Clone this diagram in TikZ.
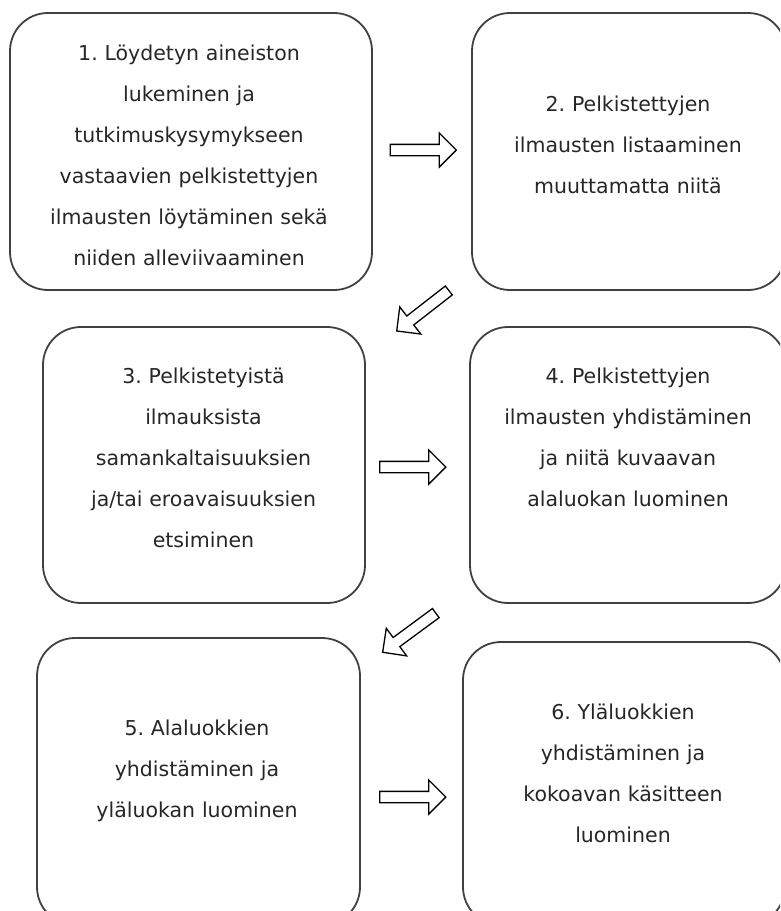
\documentclass[tikz,border=0pt]{standalone}
\usepackage{fontspec}
\setmainfont{DejaVu Sans}
\usetikzlibrary{shapes.arrows}
\frenchspacing

\begin{document}
\begin{tikzpicture}[x=1pt,y=-1pt,
            every node/.style={font=\fontsize{20.5}{41}\selectfont},
            phase/.style={draw=black!75,line width=1.8pt,rounded
              corners=38pt,inner sep=0pt},
            phasetext/.style={text width=320pt,align=center,
              text=black!85,inner sep=0pt},
            blockarrow/.style={draw,single arrow,line width=1.3pt,
              minimum height=66pt,inner xsep=0pt,inner ysep=5pt,
              single arrow head extend=11.5pt}
            ]
            \clip (0,0) rectangle (780,911);
            % the six phases
            \node[phase,minimum width=362pt,minimum height=277pt]
            (phase1) at (191,151.5) {}; \node[phase,minimum
            width=314pt,minimum height=277pt] (phase2) at (629,151.5)
            {}; \node[phase,minimum width=322pt,minimum height=276pt]
            (phase3) at (204,465) {}; \node[phase,minimum
            width=316pt,minimum height=276pt] (phase4) at (628,465) {};
            \node[phase,minimum width=323pt,minimum height=287pt]
            (phase5) at (198.5,781.5) {}; \node[phase,minimum
            width=322pt,minimum height=283pt] (phase6) at (624,783.5)
            {};
            % their texts
            \node[phasetext] (text1) at (189,155) {1. Löydetyn aineiston\\
              lukeminen ja\\ tutkimuskysymykseen\\ vastaavien
              pelkistettyjen\\ ilmausten löytäminen sekä\\ niiden
              alleviivaaminen}; \node[phasetext] (text2) at (628,145)
            {2. Pelkistettyjen\\ ilmausten listaaminen\\ muuttamatta
              niitä}; \node[phasetext] (text3) at (203.5,458) {3.
              Pelkistetyistä\\ ilmauksista\\ samankaltaisuuksien\\
              ja/tai eroavaisuuksien\\ etsiminen}; \node[phasetext]
            (text4) at (628,437) {4. Pelkistettyjen\\ ilmausten
              yhdistäminen\\ ja niitä kuvaavan\\ alaluokan luominen};
            \node[phasetext] (text5) at (197,771) {5. Alaluokkien\\
              yhdistäminen ja\\ yläluokan luominen}; \node[phasetext]
            (text6) at (623,773) {6. Yläluokkien\\ yhdistäminen ja\\
              kokoavan käsitteen\\ luominen};
            % block arrows between phases
            \node[blockarrow] (arrow12) at (420.5,150) {};
            \node[blockarrow,rotate=217.9] (arrow23) at (425,309) {};
            \node[blockarrow] (arrow34) at (410,467) {};
            \node[blockarrow,rotate=216.4] (arrow45) at (411.5,631) {};
            \node[blockarrow] (arrow56) at (410,797) {};
          \end{tikzpicture}
\end{document}
